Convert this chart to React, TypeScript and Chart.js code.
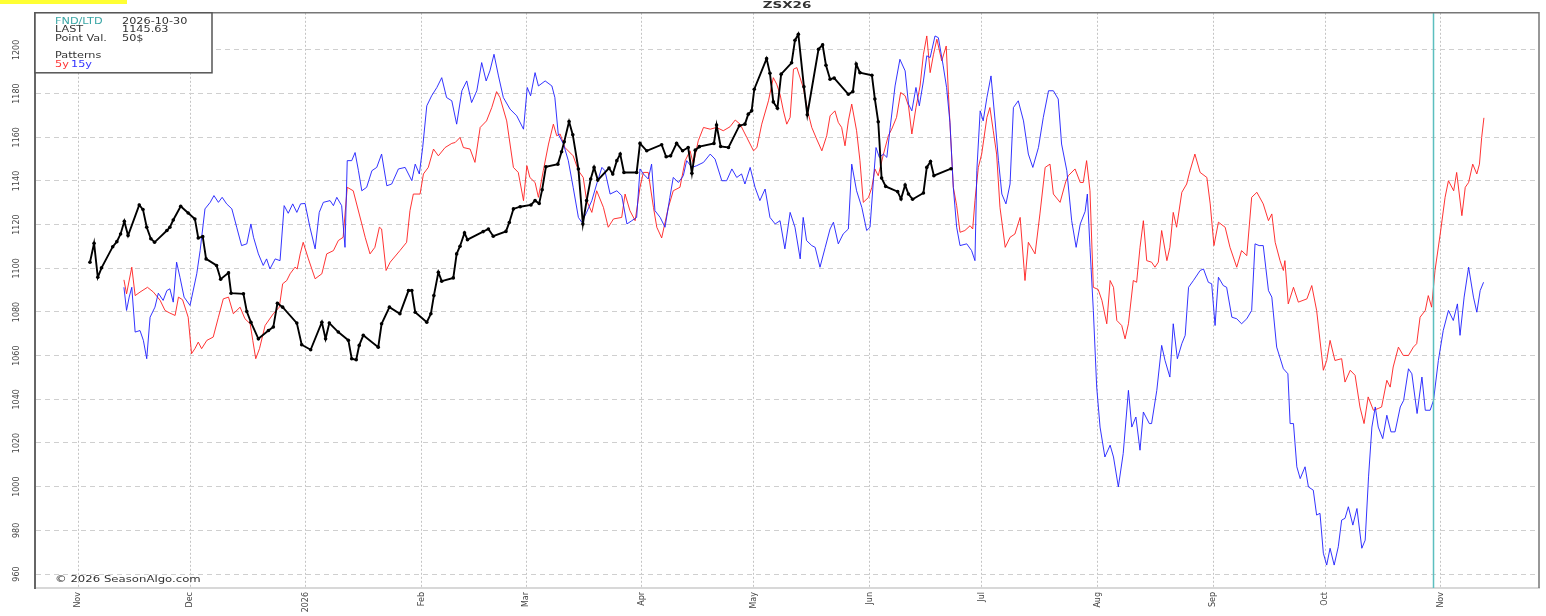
import React, { useEffect, useRef } from "react";
import { Chart, registerables } from "chart.js";

Chart.register(...registerables);

// x = calendar days since 2025-11-01
const monthDays = [0, 30, 61, 92, 120, 151, 181, 212, 242, 273, 304, 334, 365];
const monthLabels = ["Nov", "Dec", "2026", "Feb", "Mar", "Apr", "May", "Jun", "Jul", "Aug", "Sep", "Oct", "Nov"];
const yTicks = [960, 980, 1000, 1020, 1040, 1060, 1080, 1100, 1120, 1140, 1160, 1180, 1200];
const fndDay = 363; // 2026-10-30

const currentZSX26: [number, number][] = [
  [3.2,1102.8],[4.3,1111.5],[5.3,1095.9],[6.3,1100.2],[9.3,1109.9],[10.4,1112.2],[11.4,1115.7],[12.4,1121.5],[13.4,1115],[16.4,1129],[17.4,1126.9],[18.4,1118.8],[19.5,1113.5],[20.5,1111.9],[23.8,1117.3],[24.6,1118.8],[25.5,1122.1],[27.5,1128.4],[29.5,1125.3],[31.3,1122.6],[32.2,1113.9],[33.4,1114.5],[34.3,1104.3],[37.1,1101.3],[38.2,1095],[40.3,1097.9],[41,1088.6],[44.3,1088.3],[45.2,1080.2],[46.3,1075.3],[48.3,1067.7],[51,1071.5],[52.3,1073.1],[53.4,1084],[54.8,1082.2],[58.6,1074.9],[59.9,1065],[62.3,1062.7],[65.3,1075.3],[66.3,1067.7],[67.3,1074.9],[69.7,1070.8],[72.4,1067],[73.3,1058.6],[74.5,1058.1],[75.3,1064.7],[76.4,1069.3],[80.4,1063.9],[81.3,1074.6],[83.4,1082.2],[86.2,1079.2],[88.5,1089.8],[89.4,1089.8],[90.3,1079.9],[93.4,1075.3],[94.5,1079.2],[95.3,1087.5],[96.5,1098.2],[97.4,1094.1],[100.5,1095.6],[101.4,1106.6],[102.3,1110.1],[103.5,1116.2],[104.3,1113.1],[108.5,1116.8],[109.9,1118],[111.2,1114.7],[114.6,1116.9],[115.5,1121],[116.6,1127.2],[118.4,1128.2],[121.3,1129],[122.4,1131],[123.5,1129.7],[124.3,1136],[125.3,1146.5],[128.5,1147.7],[129.5,1153.4],[130.2,1157.9],[131.5,1167.2],[132.5,1161.1],[134,1145.5],[135.2,1120.3],[136.2,1131],[137.3,1140.9],[138.2,1146.2],[139.2,1140.4],[142.2,1145.9],[143.2,1143.2],[144.3,1149.3],[145.2,1152.3],[146.2,1143.9],[149.6,1143.9],[150.5,1157.2],[152.3,1153.8],[156.3,1156.6],[157.5,1151.1],[158.7,1151.5],[160.3,1157.2],[161.9,1153.8],[163.4,1155.3],[164.4,1143.5],[165.3,1154.1],[166.4,1155.7],[170.3,1157.2],[171,1165.6],[172.1,1155.8],[174.2,1155.3],[177.1,1165.3],[178.6,1166],[179.5,1170.6],[180.4,1172.1],[181.1,1182],[184.4,1196],[185.3,1189.3],[186.2,1176.2],[187.3,1173.3],[188.3,1188.9],[191.1,1194.1],[192,1204.4],[192.9,1207.2],[194.4,1183.1],[195.3,1170.3],[198.3,1200.3],[199.4,1202.3],[200.3,1193],[201.4,1186.6],[202.5,1187.1],[206.3,1179.7],[207.5,1180.9],[208.4,1193.5],[209.4,1189.6],[212.6,1188.4],[213.4,1177.5],[214.3,1167.1],[215.2,1141.3],[216.3,1137.5],[219.5,1135.1],[220.4,1131.7],[221.5,1138.1],[222.4,1134],[223.5,1131.6],[226.4,1134.5],[227.3,1146.2],[228.3,1148.9],[229.2,1142.4],[233.8,1145.6]
];

const pattern5y: [number, number][] = [
  [12.3,1094.7],[13.0,1088.3],[14.4,1100.5],[15.3,1087.5],[16.6,1089.1],[18.6,1091.3],[20.2,1089.1],[22.0,1085.3],[23.3,1080.7],[24.6,1079.5],[26.0,1078.4],[26.9,1086.8],[28.0,1085.6],[29.5,1077.6],[30.4,1060.9],[31.3,1063.2],[32.2,1066.2],[33.1,1063.2],[34.5,1067],[36.2,1068.5],[37.6,1077.6],[38.9,1086],[40.3,1086.8],[41.6,1079.2],[43.4,1082.2],[44.7,1076.9],[46.1,1074.6],[46.8,1067],[47.6,1058.6],[48.6,1063.2],[50.1,1073.8],[52.3,1079.2],[53.9,1082.2],[54.8,1092.9],[55.9,1094.4],[56.8,1097.5],[58.1,1100.5],[58.7,1099.7],[59.5,1106.6],[60.3,1111.9],[61.7,1104.3],[63.5,1095.2],[65.3,1097.5],[66.6,1106.6],[68.4,1108.1],[69.7,1112.7],[71.0,1114.2],[72.1,1137.1],[73.7,1135.5],[76.0,1120.3],[76.9,1114.2],[78.2,1106.6],[79.5,1109.6],[80.7,1118.8],[81.3,1118],[82.5,1099],[83.6,1102.8],[86.2,1108.1],[88.0,1111.9],[88.9,1126.4],[89.8,1134],[91.6,1134],[92.5,1143.2],[93.8,1146.2],[95.2,1154.6],[96.5,1151.5],[98.3,1155.3],[100.1,1157.2],[101.0,1157.6],[102.3,1159.9],[103.2,1155.3],[105.0,1154.6],[106.3,1148.5],[107.7,1164.5],[109.4,1167.5],[110.8,1173.6],[112.1,1180.9],[113.0,1178.2],[114.8,1167.5],[116.6,1146.2],[117.9,1143.9],[119.3,1131],[120.2,1147],[121.0,1141.6],[122.4,1139.3],[123.3,1132.5],[124.6,1144.7],[126.0,1156.9],[127.3,1166],[128.2,1160.7],[129.1,1161.5],[130.4,1155.3],[132.6,1151.5],[134.0,1144.7],[135.3,1141.6],[136.2,1131],[137.6,1125.6],[138.9,1135.5],[140.7,1127.9],[142.0,1118.8],[143.4,1122.6],[145.6,1123.3],[146.5,1134],[147.8,1126.4],[149.2,1121.8],[150.5,1137.1],[151.4,1143.9],[152.7,1143.9],[154.1,1127.9],[155.0,1118.8],[156.3,1113.9],[158.1,1127.9],[159.4,1135.5],[161.2,1137.1],[162.6,1149.3],[163.9,1153.8],[164.8,1147.7],[166.1,1158.4],[167.5,1164.5],[169.3,1163.7],[171.0,1164.5],[172.8,1163],[174.6,1164.8],[176.0,1167.9],[177.3,1166],[179.1,1159.9],[180.9,1153.8],[181.8,1155.3],[183.1,1166],[184.9,1176.7],[186.2,1187.3],[187.1,1184.3],[188.0,1179.7],[188.9,1172.1],[189.8,1166],[190.7,1169.1],[191.6,1191.2],[192.5,1191.9],[194.2,1182.8],[195.6,1170.6],[196.5,1164.5],[197.8,1159.2],[199.2,1153.8],[200.5,1160.7],[201.4,1169.8],[202.7,1172.1],[203.6,1166.8],[204.5,1164.5],[205.4,1156.1],[206.3,1167.5],[207.2,1175.2],[208.5,1163],[209.4,1149.3],[210.3,1130.2],[211.7,1132.5],[212.6,1137.1],[213.4,1145.5],[214.3,1142.4],[215.7,1152.3],[217.0,1160.7],[217.9,1163.7],[219.2,1169.1],[220.3,1180.5],[221.5,1179],[222.4,1174.4],[223.3,1161.5],[224.4,1173.6],[225.5,1183.5],[226.4,1198],[227.3,1206.4],[228.2,1189.6],[229.1,1198],[230.0,1204.9],[231.3,1195],[232.5,1201.8],[233.1,1179.7],[234.4,1137.1],[235.3,1128.7],[236.2,1116.5],[237.5,1117.3],[238.9,1119.5],[239.6,1118],[240.2,1131],[241.1,1146.2],[242.0,1152.3],[243.4,1169.1],[244.2,1173.6],[245.1,1163],[246.0,1152.3],[246.9,1127.9],[248.3,1109.6],[249.6,1114.2],[250.9,1115.7],[252.3,1123.3],[253.6,1094.4],[254.5,1111.9],[256.3,1106.6],[257.6,1124.9],[259.0,1146.2],[260.3,1147.7],[261.2,1134],[263.0,1130.2],[264.5,1139.6],[265.2,1142.4],[267.0,1145.5],[268.4,1139.3],[269.2,1139.3],[270.1,1149.3],[271.0,1135.5],[271.9,1091.3],[273.2,1090.3],[274.2,1085.3],[275.5,1074.6],[276.4,1094.4],[277.3,1091.3],[278.2,1076.1],[279.5,1073.8],[280.4,1067.7],[281.3,1074.6],[282.6,1094.4],[283.5,1093.6],[284.4,1109.6],[285.3,1121.8],[286.2,1103.5],[287.5,1102.8],[288.4,1100.5],[289.3,1102.8],[290.2,1117.3],[291.6,1103.5],[292.4,1109.6],[293.3,1125.6],[294.2,1118.8],[295.6,1134.8],[296.9,1138.6],[297.8,1144.7],[299.1,1152.3],[300.5,1143.9],[302.3,1141.6],[303.2,1129.5],[304.2,1110.4],[305.4,1121.1],[307.2,1118.8],[308.5,1109.6],[310.3,1100.5],[311.6,1108.1],[313.0,1105.8],[314.3,1132.5],[315.7,1134.8],[317.4,1129.5],[318.8,1121.8],[319.7,1124.9],[320.6,1111.9],[321.9,1103.5],[322.8,1099],[323.2,1103.5],[324.1,1083.7],[325.5,1091.3],[326.8,1084.5],[329.1,1086],[330.4,1092.1],[331.7,1080.7],[333.5,1053.3],[334.4,1057.8],[335.3,1067],[336.6,1057.8],[338.4,1058.6],[339.3,1047.9],[340.7,1053.3],[342.0,1051],[343.3,1036.5],[344.4,1028.9],[345.5,1041.1],[346.9,1035],[348.2,1035.8],[349.1,1036.5],[350.5,1048.7],[351.4,1045.6],[352.2,1054.8],[353.6,1063.9],[354.9,1060.1],[356.3,1060.1],[357.6,1063.9],[358.5,1065.5],[359.4,1077.6],[360.8,1080.7],[361.6,1087.5],[362.5,1082.2],[363.4,1099],[364.8,1115.7],[366.1,1132.5],[367.0,1140.1],[368.4,1135.5],[369.2,1143.9],[370.6,1124.1],[371.5,1137.1],[372.4,1139.3],[373.5,1147.7],[374.6,1143.2],[375.3,1147.7],[375.9,1159.9],[376.5,1168.9]
];

const pattern15y: [number, number][] = [
  [12.3,1091.3],[13.0,1080.7],[13.7,1086.8],[14.4,1091.3],[15.3,1070.8],[16.6,1071.5],[17.5,1067],[18.4,1058.6],[19.3,1077.6],[20.6,1082.2],[21.5,1088.6],[22.8,1085.3],[23.8,1089.8],[24.6,1090.6],[25.5,1084.5],[26.4,1102.8],[27.3,1095.9],[28.4,1086.8],[30.0,1083],[31.8,1097.5],[32.7,1108.1],[34.0,1127.2],[35.4,1130.2],[36.4,1133.3],[37.6,1130.2],[38.6,1132.5],[39.8,1129.5],[41.2,1127.2],[42.5,1118.8],[43.8,1110.4],[45.2,1111.2],[46.3,1120.3],[47.0,1114.2],[48.3,1106.6],[49.6,1101.3],[50.5,1104.3],[51.4,1099.7],[52.8,1104.3],[54.1,1103.5],[55.2,1128.7],[56.3,1125.2],[57.5,1129.5],[58.6,1125.6],[59.6,1129.5],[60.8,1129.7],[62.1,1118.8],[63.5,1108.9],[64.6,1125.6],[65.7,1130.2],[67.5,1131],[68.4,1128.7],[69.3,1132.5],[70.6,1128.7],[71.5,1109.6],[72.1,1149.3],[73.3,1149.3],[74.2,1153],[75.1,1144.7],[76.0,1135.5],[77.3,1137.1],[78.7,1144.7],[80.0,1146.2],[81.3,1152.3],[82.7,1137.8],[84.0,1138.6],[85.8,1145.5],[87.6,1146.2],[89.4,1140.1],[90.3,1147.7],[91.4,1143.2],[92.3,1155.3],[93.4,1174.4],[94.7,1179],[96.1,1182.8],[97.4,1187.3],[98.7,1178.2],[100.1,1176.7],[101.4,1166],[102.8,1181.3],[104.1,1185.8],[105.4,1175.9],[106.8,1181.3],[108.1,1194.2],[109.3,1185.8],[110.3,1190.4],[111.4,1198],[112.6,1188.1],[113.9,1178.2],[115.7,1172.9],[117.5,1169.8],[119.3,1163.7],[120.3,1182.8],[121.2,1179],[122.4,1189.6],[123.3,1183.5],[125.1,1185.8],[126.9,1183.5],[127.7,1178.2],[128.6,1161.5],[130.0,1156.9],[131.3,1149.3],[132.6,1137.1],[134.0,1123.3],[134.9,1121.1],[136.2,1125.6],[137.6,1131],[138.9,1138.6],[140.3,1146.2],[141.1,1144.7],[142.5,1134],[144.3,1135.5],[145.6,1133.3],[147.0,1120.3],[148.3,1121.8],[149.6,1123.3],[150.5,1145.5],[151.4,1143.2],[152.7,1140.9],[153.6,1147.7],[154.5,1126.4],[155.9,1123.3],[157.2,1118.8],[158.5,1132.5],[159.4,1141.6],[160.8,1139.3],[162.1,1142.4],[163.0,1149.3],[164.4,1146.2],[165.7,1147],[167.5,1148.5],[169.3,1152.3],[170.6,1150],[172.4,1140.1],[173.7,1140.1],[175.1,1145.5],[176.4,1141.6],[177.7,1143.2],[178.6,1138.6],[180.0,1146.2],[181.3,1137.1],[182.6,1131],[184.0,1136.3],[185.3,1123.3],[186.7,1120.3],[188.0,1121.8],[189.3,1108.9],[190.7,1125.6],[192.0,1118.8],[193.4,1104.3],[194.2,1123.3],[195.1,1112.7],[196.5,1110.4],[197.4,1109.6],[198.7,1100.5],[200.1,1109.6],[201.4,1118],[202.3,1121.1],[203.6,1111.2],[204.9,1115.7],[206.3,1118],[207.2,1147.7],[208.5,1135.5],[209.9,1127.9],[211.2,1117.3],[212.1,1118.8],[213.0,1140.1],[213.7,1155.3],[214.6,1150.8],[215.7,1152.3],[216.6,1150.8],[217.5,1164.5],[218.8,1183.5],[220.1,1195.7],[221.5,1190.4],[222.4,1175.2],[223.3,1172.1],[224.4,1182.8],[225.3,1174.4],[226.4,1185.8],[227.3,1197.3],[228.2,1196.5],[229.5,1206.4],[230.4,1205.6],[231.7,1192.7],[232.6,1182.8],[233.5,1166.8],[234.4,1137.1],[235.3,1118.8],[236.2,1110.4],[238.0,1111.2],[239.3,1108.1],[240.2,1103.5],[240.7,1144.7],[241.6,1172.1],[242.4,1167.5],[243.4,1178.2],[244.5,1188.1],[245.6,1167.5],[246.5,1149.3],[247.4,1134],[248.5,1129.5],[249.6,1138.6],[250.5,1173.6],[251.8,1176.7],[253.2,1167.5],[254.5,1152.3],[255.7,1146.2],[257.2,1155.3],[258.5,1169.1],[259.9,1181.3],[261.2,1181.3],[262.5,1177.5],[263.4,1156.9],[264.8,1144.7],[266.1,1121.8],[267.3,1109.6],[268.4,1120.3],[269.7,1126],[270.3,1134],[271.0,1109.6],[271.9,1080.7],[272.8,1045.6],[273.7,1027.3],[275.0,1013.6],[276.4,1019],[277.3,1013.6],[278.6,999.9],[279.9,1015.2],[281.3,1044.1],[282.2,1027.3],[283.3,1031.9],[284.4,1016.7],[285.3,1034.2],[286.9,1028.9],[287.5,1028.9],[288.9,1044.1],[290.2,1064.7],[291.1,1057.8],[292.4,1050.2],[293.3,1074.6],[294.4,1058.6],[295.6,1065.5],[296.5,1069.3],[297.4,1091.3],[298.7,1094.4],[300.5,1099],[301.4,1099.7],[302.7,1093.6],[303.6,1092.9],[304.5,1073.8],[305.4,1095.9],[306.7,1092.1],[307.6,1091.3],[309.0,1077.6],[310.3,1076.9],[311.6,1074.6],[313.0,1076.9],[314.3,1080.7],[315.2,1111.2],[316.3,1110.4],[317.4,1110.4],[318.8,1089.8],[319.7,1086.8],[321.0,1063.9],[322.8,1054],[324.0,1051.7],[324.6,1028.9],[325.5,1028.9],[326.4,1009.1],[327.3,1003.7],[328.6,1009.1],[329.5,999.9],[330.8,998.4],[331.7,987],[332.6,987.8],[333.5,969.5],[334.4,964.1],[335.3,971.8],[336.4,964.1],[337.5,972.5],[338.4,984.7],[339.3,985.5],[340.2,990.8],[341.4,982.4],[342.5,990],[343.8,971.8],[344.7,975.5],[345.6,1004.5],[346.5,1027.3],[347.4,1036.5],[348.2,1027.3],[349.4,1022],[350.5,1032.7],[351.6,1025.1],[352.7,1025.1],[354.1,1036.5],[355.0,1039.5],[356.3,1054],[357.2,1051.7],[358.6,1033.5],[359.9,1050.2],[360.8,1035],[362.1,1035],[363.0,1039.5],[364.3,1057.8],[365.6,1071.5],[367.0,1080.7],[368.3,1076.1],[369.4,1083.7],[370.1,1069.3],[371.2,1086.8],[372.4,1100.5],[373.7,1086.8],[374.6,1079.9],[375.5,1089.8],[376.4,1093.6]
];

const legendRows = [
  { label: "FND/LTD", value: "2026-10-30" },
  { label: "LAST", value: "1145.63" },
  { label: "Point Val.", value: "50$" },
];

const toPoints = (arr: [number, number][]) => arr.map(([x, y]) => ({ x, y }));

const FONT = '"DejaVu Sans", "Liberation Sans", sans-serif';

function stretchText(ctx: CanvasRenderingContext2D, text: string, x: number, y: number, color: string, font: string, sx: number, align: CanvasTextAlign = "left") {
  ctx.save();
  ctx.translate(x, y);
  ctx.scale(sx, 1);
  ctx.font = font;
  ctx.fillStyle = color;
  ctx.textBaseline = "middle";
  ctx.textAlign = align;
  ctx.fillText(text, 0, 0);
  ctx.restore();
}

const decor = {
  id: "decor",
  afterDatasetsDraw(chart: any) {
    const { ctx, chartArea, scales } = chart;
    const xp = scales.x.getPixelForValue(fndDay);
    ctx.save();
    ctx.strokeStyle = "#5cbfbf";
    ctx.lineWidth = 1.5;
    ctx.beginPath();
    ctx.moveTo(xp, chartArea.top);
    ctx.lineTo(xp, chartArea.bottom);
    ctx.stroke();
    ctx.restore();
  },
  afterDraw(chart: any) {
    const { ctx, chartArea } = chart;
    ctx.save();
    ctx.strokeStyle = "#777";
    ctx.lineWidth = 1.5;
    ctx.beginPath();
    ctx.moveTo(chartArea.left, chartArea.top);
    ctx.lineTo(chartArea.right, chartArea.top);
    ctx.lineTo(chartArea.right, chartArea.bottom);
    ctx.stroke();
    ctx.fillStyle = "#ffff33";
    ctx.fillRect(0, 0, 127, 4);
    stretchText(ctx, "ZSX26", 787, 6, "#333", `bold 9px ${FONT}`, 1.5, "center");
    ctx.fillStyle = "#fff";
    ctx.fillRect(chartArea.left, chartArea.top, 177, 60);
    ctx.strokeStyle = "#555";
    ctx.lineWidth = 1.5;
    ctx.strokeRect(chartArea.left, chartArea.top, 177, 60);
    const f = `9px ${FONT}`;
    const lx = chartArea.left + 20;
    const vx = chartArea.left + 87;
    legendRows.forEach((r, i) => {
      const yy = chartArea.top + 9 + i * 8.3;
      stretchText(ctx, r.label, lx, yy, i === 0 ? "#3aa6a6" : "#333", f, 1.25);
      stretchText(ctx, r.value, vx, yy, "#333", f, 1.25);
    });
    stretchText(ctx, "Patterns", lx, chartArea.top + 43, "#333", f, 1.25);
    stretchText(ctx, "5y", lx, chartArea.top + 52, "#ff3333", f, 1.25);
    stretchText(ctx, "15y", lx + 16, chartArea.top + 52, "#3333ff", f, 1.25);
    stretchText(ctx, "\u00a9 2026 SeasonAlgo.com", chartArea.left + 20, chartArea.bottom - 8, "#333", f, 1.3);
    ctx.restore();
  },
};

export default function App() {
  const ref = useRef<HTMLCanvasElement | null>(null);
  useEffect(() => {
    if (!ref.current) return;
    const chart = new Chart(ref.current, {
      type: "line",
      data: {
        datasets: [
          {
            label: "ZSX26",
            data: toPoints(currentZSX26),
            borderColor: "#000",
            backgroundColor: "#000",
            borderWidth: 1.9,
            pointRadius: 1.8,
            pointBorderWidth: 0,
            pointBackgroundColor: "#000",
            tension: 0,
          },
          {
            label: "15y",
            data: toPoints(pattern15y),
            borderColor: "rgba(30,30,255,0.9)",
            borderWidth: 1,
            pointRadius: 0,
            tension: 0,
          },
          {
            label: "5y",
            data: toPoints(pattern5y),
            borderColor: "rgba(255,30,30,0.9)",
            borderWidth: 1,
            pointRadius: 0,
            tension: 0,
          },
        ],
      },
      options: {
        animation: false,
        responsive: false,
        maintainAspectRatio: false,
        layout: { padding: { top: 12, right: 7, left: 0, bottom: 0 } },
        plugins: { legend: { display: false }, tooltip: { enabled: false }, title: { display: false } },
        scales: {
          x: {
            type: "linear",
            min: -11.52,
            max: 391.25,
            afterBuildTicks: (s: any) => { s.ticks = monthDays.map((v) => ({ value: v })); },
            afterFit: (s: any) => { s.height = 28; },
            ticks: {
              autoSkip: false,
              minRotation: 90,
              maxRotation: 90,
              padding: 4,
              color: "#444",
              font: { family: FONT, size: 8 },
              callback: (_v: any, i: number) => monthLabels[i],
            },
            grid: { color: "#c4c4c4", lineWidth: 1, drawTicks: false, tickLength: 0 },
            border: { display: true, color: "#d8d8d8", width: 2, dash: [2, 2] },
          },
          y: {
            type: "linear",
            min: 953.6,
            max: 1217,
            afterBuildTicks: (s: any) => { s.ticks = yTicks.map((v) => ({ value: v })); },
            afterFit: (s: any) => { s.width = 35; },
            ticks: {
              minRotation: 90,
              maxRotation: 90,
              crossAlign: "center",
              padding: 8,
              color: "#444",
              font: { family: FONT, size: 8 },
              callback: (v: any) => String(v),
            },
            grid: { color: "#cfcfcf", lineWidth: 1, drawTicks: false, tickLength: 0 },
            border: { display: true, color: "#666", width: 2, dash: [5, 4] },
          },
        },
      } as any,
      plugins: [decor],
    });
    return () => chart.destroy();
  }, []);
  return (
    <div style={{ position: "fixed", left: 0, top: 0, width: 1546, height: 616, background: "#fff" }}>
      <canvas ref={ref} width={1546} height={616} />
    </div>
  );
}
